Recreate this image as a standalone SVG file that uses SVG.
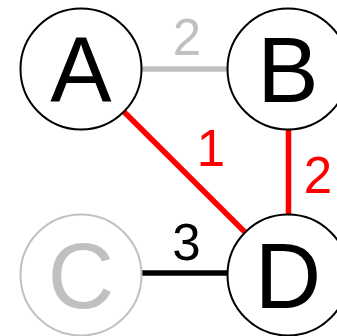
<svg xmlns="http://www.w3.org/2000/svg" width="337" height="336" viewBox="0 0 337 336">
<style>
.edge{stroke-width:5.5;fill:none}
.node circle{fill:#fff;stroke:#000;stroke-width:2}
.node text{font-family:"Liberation Sans",Arial,sans-serif;font-size:92px;text-anchor:middle;fill:#000}
.lbl{font-family:"Liberation Sans",Arial,sans-serif;font-size:51px;text-anchor:middle}
</style>
<rect width="337" height="336" fill="#fff"/>
<g id="edges">
<line class="edge" x1="81" y1="69" x2="288" y2="69" stroke="#c0c0c0"/>
<line class="edge" x1="81" y1="69" x2="288" y2="275" stroke="#ff0000"/>
<line class="edge" x1="288.5" y1="69" x2="288.5" y2="275" stroke="#ff0000"/>
<line class="edge" x1="81" y1="273" x2="288" y2="273" stroke="#000"/>
<text class="lbl" x="187" y="55" fill="#c0c0c0">2</text>
<text class="lbl" x="211" y="166" fill="#ff0000">1</text>
<text class="lbl" x="318" y="193" fill="#ff0000">2</text>
<text class="lbl" x="186.5" y="260" fill="#000">3</text>
</g>
<g id="A" class="node"><circle cx="81" cy="69" r="60.5"/><text x="81" y="102">A</text></g>
<g id="B" class="node"><circle cx="288" cy="69" r="60.5"/><text x="288" y="102">B</text></g>
<g id="C" class="node"><circle cx="81" cy="275" r="60.5" style="stroke:#c0c0c0"/><text x="81" y="308" style="fill:#c0c0c0">C</text></g>
<g id="D" class="node"><circle cx="288" cy="275" r="60.5"/><text x="288" y="308">D</text></g>
</svg>
